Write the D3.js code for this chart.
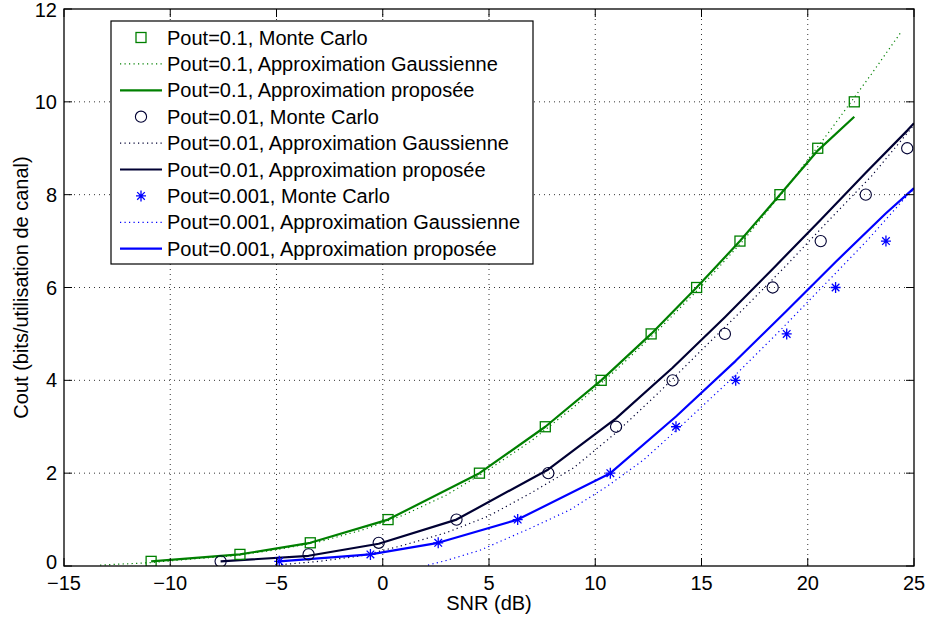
<!DOCTYPE html>
<html>
<head>
<meta charset="utf-8">
<script src="https://cdn.jsdelivr.net/npm/d3@7"></script>
<style>
body { margin: 0; background: #fff; }
svg { font-family: "Liberation Sans", Arial, sans-serif; }
</style>
</head>
<body>
<div id="chart"></div>
<script>
// Axis ticks
var snrTicks = [-15, -10, -5, 0, 5, 10, 15, 20, 25];
var coutTicks = [0, 2, 4, 6, 8, 10, 12];

// Pout = 0.1
var snrMC1 = [-10.9, -6.72, -3.41, 0.25, 4.55, 7.65, 10.28, 12.63, 14.77, 16.81, 18.69, 20.47, 22.19];
var coutMC1 = [0.1, 0.25, 0.5, 1, 2, 3, 4, 5, 6, 7, 8, 9, 10];
var coutProp1 = [0.1, 0.25, 0.5, 1, 2, 3, 4, 5, 6, 7, 8, 8.95, 9.68];
var snrGauss1 = [-13.3, -11, -9, -7, -5, -3, -1, 1, 3, 5, 7, 9, 11, 13, 15, 17, 19, 21, 23, 24.37];
var coutGauss1 = [0.02, 0.07, 0.15, 0.22, 0.35, 0.52, 0.77, 1.1, 1.53, 2.08, 2.7, 3.43, 4.23, 5.1, 6.03, 7.03, 8.15, 9.35, 10.6, 11.49];

// Pout = 0.01
var snrMC2 = [-7.63, -3.49, -0.19, 3.47, 7.79, 10.98, 13.64, 16.1, 18.35, 20.61, 22.73, 24.68];
var coutMC2 = [0.1, 0.25, 0.5, 1, 2, 3, 4, 5, 6, 7, 8, 9];
var snrProp2 = [-7.63, -3.49, -0.19, 3.47, 7.79, 10.98, 13.64, 16.1, 18.35, 20.61, 22.73, 24.68, 25];
var coutProp2 = [0.1, 0.22, 0.48, 1, 2.08, 3.18, 4.27, 5.36, 6.4, 7.46, 8.47, 9.38, 9.54];
var snrGauss2 = [-5, -3, -1, 1, 3, 5, 7, 9, 11, 13, 15, 17, 19, 21, 23, 25];
var coutGauss2 = [0.02, 0.1, 0.22, 0.45, 0.72, 1.08, 1.58, 2.12, 2.88, 3.74, 4.65, 5.55, 6.48, 7.45, 8.4, 9.5];

// Pout = 0.001
var snrMC3 = [-4.87, -0.58, 2.61, 6.35, 10.71, 13.8, 16.61, 19.01, 21.31, 23.68];
var coutMC3 = [0.1, 0.25, 0.5, 1, 2, 3, 4, 5, 6, 7];
var snrProp3 = [-4.87, -0.58, 2.61, 6.35, 10.71, 13.8, 16.61, 19.01, 21.31, 23.68, 25];
var coutProp3 = [0.1, 0.25, 0.5, 1, 2, 3.22, 4.42, 5.5, 6.55, 7.6, 8.14];
var snrGauss3 = [2.13, 3, 4.58, 6.93, 8.81, 10.54, 12.26, 14, 16.34, 18.54, 20.66, 22.77, 24.5, 25];
var coutGauss3 = [0.02, 0.12, 0.34, 0.81, 1.21, 1.71, 2.28, 3, 4, 5, 6, 7, 7.89, 8.12];

var legendLabels = [
    "Pout=0.1, Monte Carlo",
    "Pout=0.1, Approximation Gaussienne",
    "Pout=0.1, Approximation proposée",
    "Pout=0.01, Monte Carlo",
    "Pout=0.01, Approximation Gaussienne",
    "Pout=0.01, Approximation proposée",
    "Pout=0.001, Monte Carlo",
    "Pout=0.001, Approximation Gaussienne",
    "Pout=0.001, Approximation proposée"
];

var green = "#008000", navy = "#000033", blue = "#0000ff";
var fontSize = 20;

// SVG margins
var margin = {top: 9, right: 14, bottom: 58, left: 64};
var width = 928 - margin.left - margin.right,
    height = 624 - margin.top - margin.bottom;

var svg = d3.select("#chart").append("svg")
    .attr("width", 928)
    .attr("height", 624);

var g = svg.append("g")
    .attr("transform", "translate(" + margin.left + "," + margin.top + ")");

var x = d3.scaleLinear().domain([-15, 25]).range([0, width]);
var y = d3.scaleLinear().domain([0, 12]).range([height, 0]);

// Dotted grid
g.selectAll("line.vgrid")
    .data(snrTicks.slice(1, -1))
    .enter().append("line")
    .attr("x1", function(d) { return x(d); })
    .attr("x2", function(d) { return x(d); })
    .attr("y1", 0).attr("y2", height)
    .attr("stroke", "#333").attr("stroke-width", 1)
    .attr("stroke-dasharray", "1,4");

g.selectAll("line.hgrid")
    .data(coutTicks.slice(1, -1))
    .enter().append("line")
    .attr("y1", function(d) { return y(d); })
    .attr("y2", function(d) { return y(d); })
    .attr("x1", 0).attr("x2", width)
    .attr("stroke", "#333").attr("stroke-width", 1)
    .attr("stroke-dasharray", "1,4");

g.append("clipPath").attr("id", "plotClip")
    .append("rect").attr("width", width).attr("height", height);

var plot = g.append("g").attr("clip-path", "url(#plotClip)");

function zip(xs, ys) {
    return xs.map(function(d, i) { return [d, ys[i]]; });
}

var line = d3.line()
    .x(function(d) { return x(d[0]); })
    .y(function(d) { return y(d[1]); });

function drawCurve(xs, ys, color, dotted) {
    plot.append("path")
        .datum(zip(xs, ys))
        .attr("d", line)
        .attr("fill", "none")
        .attr("stroke", color)
        .attr("stroke-width", dotted ? 1.2 : 2.2)
        .attr("stroke-dasharray", dotted ? "1.2,3.3" : null)
        .attr("stroke-linejoin", "round");
}

// Draw one marker at (cx, cy)
function drawMarker(parent, type, cx, cy, color) {
    if (type == "square") {
        parent.append("rect")
            .attr("x", cx - 5).attr("y", cy - 5)
            .attr("width", 10).attr("height", 10)
            .attr("fill", "none").attr("stroke", color).attr("stroke-width", 1.3);
    } else if (type == "circle") {
        parent.append("circle")
            .attr("cx", cx).attr("cy", cy).attr("r", 5.6)
            .attr("fill", "none").attr("stroke", color).attr("stroke-width", 1.1);
    } else {
        parent.append("path")
            .attr("transform", "translate(" + cx + "," + cy + ")")
            .attr("d", "M-5,0H5M0,-5.5V5.5M-3.8,-3.8L3.8,3.8M-3.8,3.8L3.8,-3.8")
            .attr("fill", "none").attr("stroke", color).attr("stroke-width", 1.3);
    }
}

function drawMarkers(xs, ys, type, color) {
    xs.forEach(function(d, i) {
        drawMarker(plot, type, x(d), y(ys[i]), color);
    });
}

drawCurve(snrGauss1, coutGauss1, green, true);
drawCurve(snrMC1, coutProp1, green, false);
drawCurve(snrGauss2, coutGauss2, navy, true);
drawCurve(snrProp2, coutProp2, navy, false);
drawCurve(snrGauss3, coutGauss3, blue, true);
drawCurve(snrProp3, coutProp3, blue, false);

drawMarkers(snrMC1, coutMC1, "square", green);
drawMarkers(snrMC2, coutMC2, "circle", navy);
drawMarkers(snrMC3, coutMC3, "star", blue);

// Box and inward ticks
g.append("rect")
    .attr("width", width).attr("height", height)
    .attr("fill", "none").attr("stroke", "#000").attr("stroke-width", 1.3);

var tickLen = 8;
snrTicks.forEach(function(t) {
    g.append("line").attr("x1", x(t)).attr("x2", x(t))
        .attr("y1", height).attr("y2", height - tickLen).attr("stroke", "#000");
    g.append("line").attr("x1", x(t)).attr("x2", x(t))
        .attr("y1", 0).attr("y2", tickLen).attr("stroke", "#000");
    g.append("text").attr("x", x(t)).attr("y", height + 24)
        .attr("text-anchor", "middle").attr("font-size", fontSize)
        .text(String(t).replace("-", "\u2212"));
});
coutTicks.forEach(function(t) {
    var dy = t == 0 ? "0.15em" : (t == 12 ? "0.42em" : "0.35em");
    g.append("line").attr("y1", y(t)).attr("y2", y(t))
        .attr("x1", 0).attr("x2", tickLen).attr("stroke", "#000");
    g.append("line").attr("y1", y(t)).attr("y2", y(t))
        .attr("x1", width).attr("x2", width - tickLen).attr("stroke", "#000");
    g.append("text").attr("x", -7).attr("y", y(t)).attr("dy", dy)
        .attr("text-anchor", "end").attr("font-size", fontSize)
        .text(t);
});

// Axis titles
g.append("text")
    .attr("x", width / 2).attr("y", height + 44)
    .attr("text-anchor", "middle").attr("font-size", fontSize)
    .text("SNR (dB)");

g.append("text")
    .attr("transform", "translate(" + (-36) + "," + (height / 2) + ") rotate(-90)")
    .attr("text-anchor", "middle").attr("font-size", fontSize)
    .text("Cout (bits/utilisation de canal)");

// Legend
var legend = svg.append("g").attr("transform", "translate(111,21)");
legend.append("rect")
    .attr("width", 422).attr("height", 243)
    .attr("fill", "#fff").attr("stroke", "#000").attr("stroke-width", 1.2);

var legendItems = [
    {type: "square", color: green}, {type: "dotted", color: green}, {type: "solid", color: green},
    {type: "circle", color: navy}, {type: "dotted", color: navy}, {type: "solid", color: navy},
    {type: "star", color: blue}, {type: "dotted", color: blue}, {type: "solid", color: blue}
];

legendItems.forEach(function(item, i) {
    var ly = 16.5 + i * 26.4;
    if (item.type == "dotted" || item.type == "solid") {
        legend.append("line")
            .attr("x1", 9).attr("x2", 51).attr("y1", ly).attr("y2", ly)
            .attr("stroke", item.color)
            .attr("stroke-width", item.type == "dotted" ? 1.2 : 2.2)
            .attr("stroke-dasharray", item.type == "dotted" ? "1.2,3.3" : null);
    } else {
        drawMarker(legend, item.type, 30, ly, item.color);
    }
    legend.append("text")
        .attr("x", 56).attr("y", ly).attr("dy", "0.35em")
        .attr("font-size", fontSize)
        .text(legendLabels[i]);
});
</script>
</body>
</html>
